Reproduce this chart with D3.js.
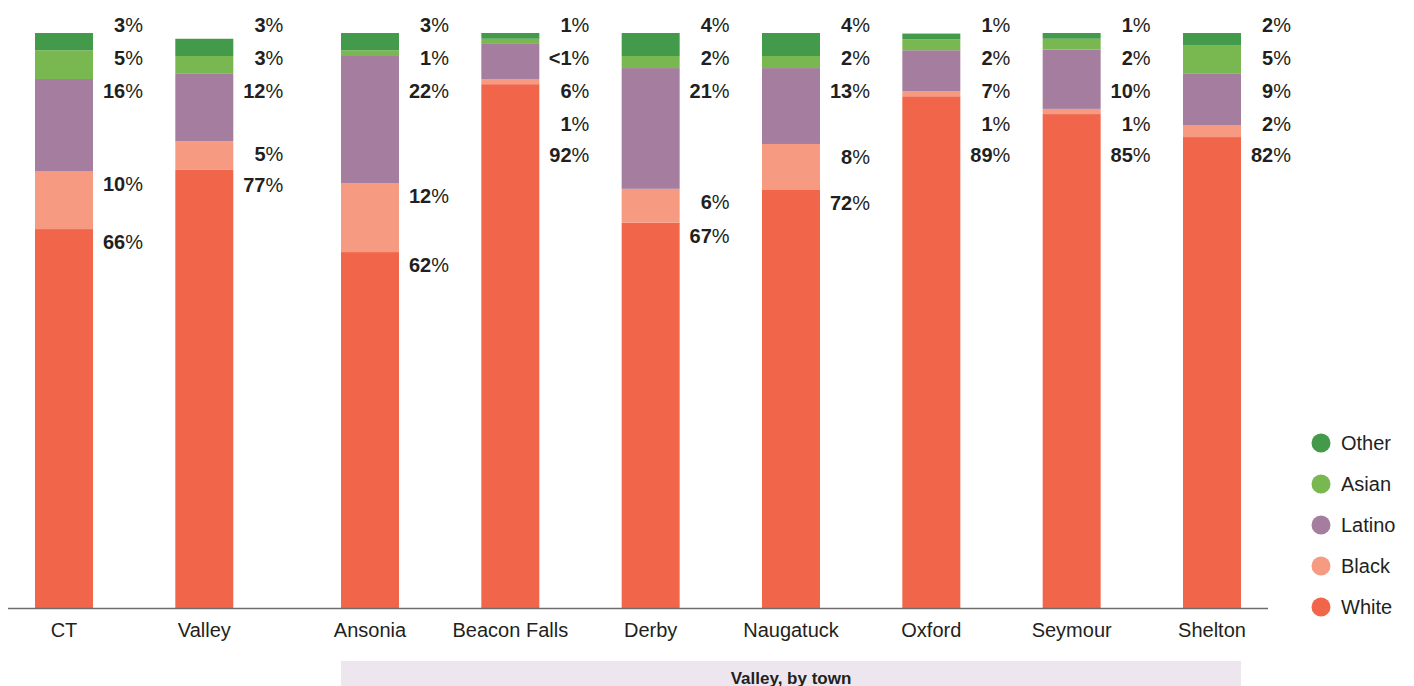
<!DOCTYPE html>
<html>
<head>
<meta charset="utf-8">
<script src="https://cdn.jsdelivr.net/npm/d3@7"></script>
<style>
  html, body { margin: 0; padding: 0; background: #fff; }
  svg { display: block; }
  text { font-family: "Liberation Sans", Arial, sans-serif; fill: #231f20; }
</style>
</head>
<body>
<svg id="chart" width="1414" height="686"></svg>
<script>
// ---- data ----
const stateCategories = ["CT", "Valley"];
const townCategories = ["Ansonia", "Beacon Falls", "Derby", "Naugatuck", "Oxford", "Seymour", "Shelton"];
const categories = stateCategories.concat(townCategories);
const townGroupLabel = "Valley, by town";

const seriesNames = ["White", "Black", "Latino", "Asian", "Other"];
const white  = [65.9, 76.2, 61.9, 91.1, 67.0, 72.7, 89.0, 85.9, 81.9];
const black  = [10.1,  5.0, 12.0,  0.9,  5.9,  8.0,  0.9,  0.9,  2.1];
const latino = [16.0, 11.8, 22.1,  6.1, 21.0, 13.2,  7.1, 10.3,  9.0];
const asian  = [ 5.0,  3.0,  1.0,  0.9,  2.1,  2.1,  1.9,  1.9,  4.9];
const other  = [ 3.0,  3.0,  3.0,  1.0,  4.0,  4.0,  1.0,  1.0,  2.1];

const whiteLabels  = ["66%", "77%", "62%", "92%", "67%", "72%", "89%", "85%", "82%"];
const blackLabels  = ["10%", "5%", "12%", "1%", "6%", "8%", "1%", "1%", "2%"];
const latinoLabels = ["16%", "12%", "22%", "6%", "21%", "13%", "7%", "10%", "9%"];
const asianLabels  = ["5%", "3%", "1%", "<1%", "2%", "2%", "2%", "2%", "5%"];
const otherLabels  = ["3%", "3%", "3%", "1%", "4%", "4%", "1%", "1%", "2%"];

const colors = { White: "#f1664b", Black: "#f69a81", Latino: "#a57e9f", Asian: "#79b851", Other: "#439a4a" };

// ---- build table ----
const valuesBySeries = { White: white, Black: black, Latino: latino, Asian: asian, Other: other };
const labelsBySeries = { White: whiteLabels, Black: blackLabels, Latino: latinoLabels, Asian: asianLabels, Other: otherLabels };
const table = categories.map((c, i) => {
  const row = { category: c };
  seriesNames.forEach(s => row[s] = valuesBySeries[s][i]);
  return row;
});
const stacked = d3.stack().keys(seriesNames)(table);

// ---- scales ----
const svg = d3.select("#chart");
const baseY = 608, topY = 33;
const y = d3.scaleLinear().domain([0, 100]).range([baseY, topY]);
const pInner = 0.5867;
const xState = d3.scaleBand().domain(stateCategories).range([35, 233.3]).paddingInner(pInner).paddingOuter(0);
const xTown = d3.scaleBand().domain(townCategories).range([341, 1241]).paddingInner(pInner).paddingOuter(0);
const xPos = c => stateCategories.includes(c) ? xState(c) : xTown(c);
const bw = xState.bandwidth();

// ---- bars ----
const gBars = svg.append("g");
stacked.forEach(layer => {
  gBars.selectAll(null).data(layer).enter().append("rect")
    .attr("x", d => xPos(d.data.category))
    .attr("width", bw)
    .attr("y", d => y(d[1]))
    .attr("height", d => y(d[0]) - y(d[1]))
    .attr("fill", colors[layer.key]);
});

// ---- value labels ----
const gLab = svg.append("g");
const topOrder = ["Other", "Asian", "Latino", "Black", "White"];
const rowGap = 33;
categories.forEach((c, i) => {
  const xRight = xPos(c) + bw + 50;
  let prev = null;
  topOrder.forEach((s, k) => {
    const layer = stacked.find(l => l.key === s);
    const segTop = y(layer[i][1]);
    const segH = y(layer[i][0]) - y(layer[i][1]);
    let yc;
    if (k < 3) yc = y(100) - 8 + rowGap * k;
    else if (k === 3) yc = segH < 20 ? y(100) - 8 + rowGap * 3 : Math.max(segTop + 13, y(100) - 8 + rowGap * 3);
    else yc = Math.max(segTop + 13, prev + 31);
    prev = yc;
    const txt = labelsBySeries[s][i];
    const t = gLab.append("text")
      .attr("x", xRight).attr("y", yc).attr("dy", "0.36em")
      .attr("text-anchor", "end")
      .style("font-size", "20px");
    t.append("tspan").style("font-weight", "bold").text(txt.replace("%", ""));
    t.append("tspan").style("font-weight", "normal").text("%");
  });
});

// ---- axis ----
svg.append("line")
  .attr("x1", 8).attr("x2", 1268).attr("y1", baseY + 0.5).attr("y2", baseY + 0.5)
  .attr("stroke", "#6d6d6d").attr("stroke-width", 1.5);

function styleAxis(g) {
  g.select(".domain").remove();
  g.selectAll("text").style("font-size", "20px").style("font-family", "'Liberation Sans', Arial, sans-serif").attr("fill", "#231f20");
}
svg.append("g").attr("transform", `translate(0,${baseY})`)
  .call(d3.axisBottom(xState).tickSize(0).tickPadding(15)).call(styleAxis);
svg.append("g").attr("transform", `translate(0,${baseY})`)
  .call(d3.axisBottom(xTown).tickSize(0).tickPadding(15)).call(styleAxis);

// ---- group band ----
const [gx0, gx1] = xTown.range();
svg.append("rect").attr("x", gx0).attr("y", 661).attr("width", gx1 - gx0).attr("height", 40).attr("fill", "#ede6ef");
svg.append("text").attr("x", (gx0 + gx1) / 2).attr("y", 684)
  .attr("text-anchor", "middle").style("font-size", "17px").style("font-weight", "bold")
  .text(townGroupLabel);

// ---- legend ----
const gLeg = svg.append("g");
topOrder.forEach((s, k) => {
  const cy = 443 + k * 41;
  gLeg.append("circle").attr("cx", 1321).attr("cy", cy).attr("r", 9.5).attr("fill", colors[s]);
  gLeg.append("text").attr("x", 1341).attr("y", cy).attr("dy", "0.36em").style("font-size", "20px").text(s);
});
</script>
</body>
</html>
